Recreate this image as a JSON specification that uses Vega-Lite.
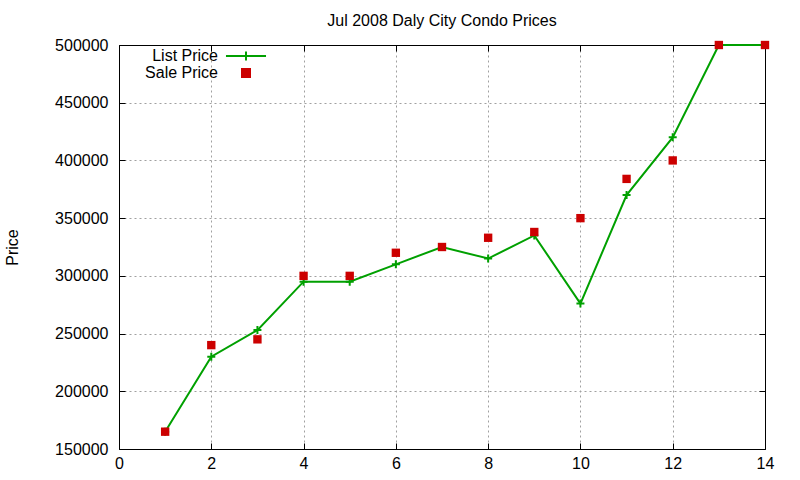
{
  "$schema": "https://vega.github.io/schema/vega-lite/v6.json",
  "autosize": "none",
  "padding": {"left": 119, "top": 45, "right": 35, "bottom": 31},
  "width": 646,
  "height": 404,
  "background": "white",
  "title": {
    "text": "Jul 2008 Daly City Condo Prices",
    "font": "Liberation Sans",
    "fontSize": 16,
    "fontWeight": "normal",
    "color": "#000000",
    "anchor": "middle",
    "offset": 8
  },
  "config": {
    "view": {"stroke": null},
    "axis": {
      "labelFont": "Liberation Sans",
      "labelFontSize": 16,
      "labelColor": "#000000",
      "titleFont": "Liberation Sans",
      "titleFontSize": 16,
      "titleFontWeight": "normal",
      "titleColor": "#000000",
      "domainColor": "#000000",
      "domainWidth": 1,
      "tickColor": "#000000",
      "tickSize": -6,
      "gridColor": "#a0a0a0",
      "gridDash": [2, 3],
      "gridWidth": 1
    },
    "legend": {
      "labelFont": "Liberation Sans",
      "labelFontSize": 16,
      "labelColor": "#000000"
    }
  },
  "data": {
    "values": [
      {"month": 1, "price": 165000, "series": "List Price"},
      {"month": 2, "price": 230000, "series": "List Price"},
      {"month": 3, "price": 253000, "series": "List Price"},
      {"month": 4, "price": 295000, "series": "List Price"},
      {"month": 5, "price": 295000, "series": "List Price"},
      {"month": 6, "price": 310000, "series": "List Price"},
      {"month": 7, "price": 325000, "series": "List Price"},
      {"month": 8, "price": 315000, "series": "List Price"},
      {"month": 9, "price": 335000, "series": "List Price"},
      {"month": 10, "price": 276000, "series": "List Price"},
      {"month": 11, "price": 370000, "series": "List Price"},
      {"month": 12, "price": 420000, "series": "List Price"},
      {"month": 13, "price": 500000, "series": "List Price"},
      {"month": 14, "price": 500000, "series": "List Price"},
      {"month": 1, "price": 165000, "series": "Sale Price"},
      {"month": 2, "price": 240000, "series": "Sale Price"},
      {"month": 3, "price": 245000, "series": "Sale Price"},
      {"month": 4, "price": 300000, "series": "Sale Price"},
      {"month": 5, "price": 300000, "series": "Sale Price"},
      {"month": 6, "price": 320000, "series": "Sale Price"},
      {"month": 7, "price": 325000, "series": "Sale Price"},
      {"month": 8, "price": 333000, "series": "Sale Price"},
      {"month": 9, "price": 338000, "series": "Sale Price"},
      {"month": 10, "price": 350000, "series": "Sale Price"},
      {"month": 11, "price": 384000, "series": "Sale Price"},
      {"month": 12, "price": 400000, "series": "Sale Price"},
      {"month": 13, "price": 500000, "series": "Sale Price"},
      {"month": 14, "price": 500000, "series": "Sale Price"}
    ]
  },
  "resolve": {"axis": {"x": "independent", "y": "independent"}},
  "layer": [
    {
      "transform": [{"filter": "datum.series === 'List Price'"}],
      "mark": {"type": "line", "strokeWidth": 2, "clip": false},
      "encoding": {
        "x": {
          "field": "month", "type": "quantitative",
          "scale": {"domain": [0, 14], "nice": false, "zero": false},
          "axis": {
            "orient": "bottom", "title": null, "grid": true,
            "values": [0, 2, 4, 6, 8, 10, 12, 14],
            "labelPadding": 12, "labelFlush": false
          }
        },
        "y": {
          "field": "price", "type": "quantitative",
          "scale": {"domain": [150000, 500000], "nice": false, "zero": false},
          "axis": {
            "orient": "left", "title": "Price", "grid": true, "format": "d",
            "values": [150000, 200000, 250000, 300000, 350000, 400000, 450000, 500000],
            "labelPadding": 17, "labelFlush": false,
            "titleX": -107, "titleY": 202, "titleAngle": -90,
            "titleAlign": "center", "titleBaseline": "middle"
          }
        },
        "color": {
          "field": "series", "type": "nominal",
          "scale": {"domain": ["List Price", "Sale Price"], "range": ["#00a000", "#cc0000"]},
          "legend": {
            "title": null,
            "orient": "none",
            "legendX": 119,
            "legendY": 3,
            "padding": 0,
            "symbolSize": 225,
            "rowPadding": -3,
            "labelAlign": "right",
            "labelOffset": -36,
            "encode": {
              "symbols": {
                "update": {
                  "shape": {"signal": "datum.value === 'List Price' ? 'M-2.67,0H2.67M0,-0.6V0.6' : 'square'"},
                  "size": {"signal": "datum.value === 'List Price' ? 225 : 64"},
                  "fill": {"signal": "datum.value === 'List Price' ? 'transparent' : '#cc0000'"},
                  "stroke": {"signal": "datum.value === 'List Price' ? '#00a000' : 'transparent'"},
                  "strokeWidth": {"value": 2},
                  "opacity": {"value": 1}
                }
              }
            }
          }
        }
      }
    },
    {
      "transform": [{"filter": "datum.series === 'List Price'"}],
      "mark": {"type": "point", "shape": "M-1,0H1M0,-1V1", "filled": false, "size": 64, "strokeWidth": 2, "opacity": 1, "clip": false},
      "encoding": {
        "x": {"field": "month", "type": "quantitative", "axis": null},
        "y": {"field": "price", "type": "quantitative", "axis": null},
        "color": {"field": "series", "type": "nominal"}
      }
    },
    {
      "transform": [{"filter": "datum.series === 'Sale Price'"}],
      "mark": {"type": "point", "shape": "square", "filled": true, "size": 70, "opacity": 1, "clip": false},
      "encoding": {
        "x": {
          "field": "month", "type": "quantitative",
          "axis": {"orient": "top", "title": null, "labels": false, "grid": false, "values": [0, 2, 4, 6, 8, 10, 12, 14]}
        },
        "y": {
          "field": "price", "type": "quantitative",
          "axis": {"orient": "right", "title": null, "labels": false, "grid": false,
            "values": [150000, 200000, 250000, 300000, 350000, 400000, 450000, 500000]}
        },
        "color": {"field": "series", "type": "nominal"}
      }
    }
  ]
}
